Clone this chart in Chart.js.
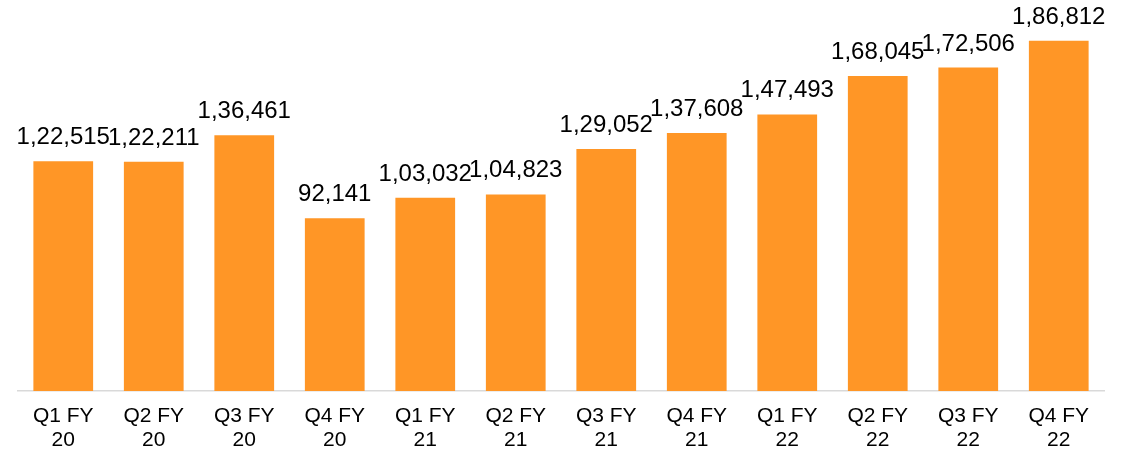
<!DOCTYPE html>
<html>
<head>
<meta charset="utf-8">
<script src="https://cdn.jsdelivr.net/npm/chart.js@4/dist/chart.umd.min.js"></script>
<style>
    html, body { margin: 0; padding: 0; background: #fff; }
    #wrap { width: 1132px; height: 455px; }
</style>
</head>
<body>
<div id="wrap"><canvas id="chart-quarterly"></canvas></div>
<script>
let quarters = [
    ['Q1 FY', '20'], ['Q2 FY', '20'], ['Q3 FY', '20'], ['Q4 FY', '20'],
    ['Q1 FY', '21'], ['Q2 FY', '21'], ['Q3 FY', '21'], ['Q4 FY', '21'],
    ['Q1 FY', '22'], ['Q2 FY', '22'], ['Q3 FY', '22'], ['Q4 FY', '22'],
];
let values = [122515, 122211, 136461, 92141, 103032, 104823, 129052, 137608, 147493, 168045, 172506, 186812];

// indian style grouping: 1,22,515
function formatIndian(n) {
    let s = String(n);
    if (s.length <= 3) return s;
    let last = s.slice(-3);
    let rest = s.slice(0, -3).replace(/\B(?=(\d{2})+(?!\d))/g, ',');
    return rest + ',' + last;
}

let valueLabels = {
    id: 'valueLabels',
    afterDatasetsDraw(chart) {
        let ctx = chart.ctx;
        let meta = chart.getDatasetMeta(0);
        ctx.save();
        ctx.font = '24px "Liberation Sans", Arial, sans-serif';
        ctx.fillStyle = '#000';
        ctx.textAlign = 'center';
        ctx.textBaseline = 'alphabetic';
        meta.data.forEach((bar, i) => {
            ctx.fillText(formatIndian(values[i]), bar.x, bar.y - 17);
        });
        ctx.restore();
    },
};

let quarterlyCanvas = document.getElementById('chart-quarterly');

new Chart(quarterlyCanvas, {
    type: 'bar',
    data: {
        labels: quarters,
        datasets: [{
            data: values,
            backgroundColor: '#ff9626',
            barPercentage: 0.66,
            categoryPercentage: 1,
        }],
    },
    options: {
        responsive: true,
        maintainAspectRatio: false,
        animation: false,
        layout: {
            padding: { left: 18, right: 28, top: 16, bottom: 0 },
        },
        plugins: {
            legend: { display: false },
            tooltip: { enabled: false },
        },
        scales: {
            x: {
                grid: { display: false, drawTicks: false },
                border: { display: true, color: '#d9d9d9', width: 1.5 },
                ticks: {
                    color: '#000',
                    padding: 13,
                    maxRotation: 0,
                    font: { family: '"Liberation Sans", Arial, sans-serif', size: 21, lineHeight: 1.15 },
                },
                afterFit(scale) {
                    scale.height = 64;
                },
            },
            y: {
                display: false,
                min: 0,
                max: 200000,
            },
        },
    },
    plugins: [valueLabels],
});
</script>
</body>
</html>
